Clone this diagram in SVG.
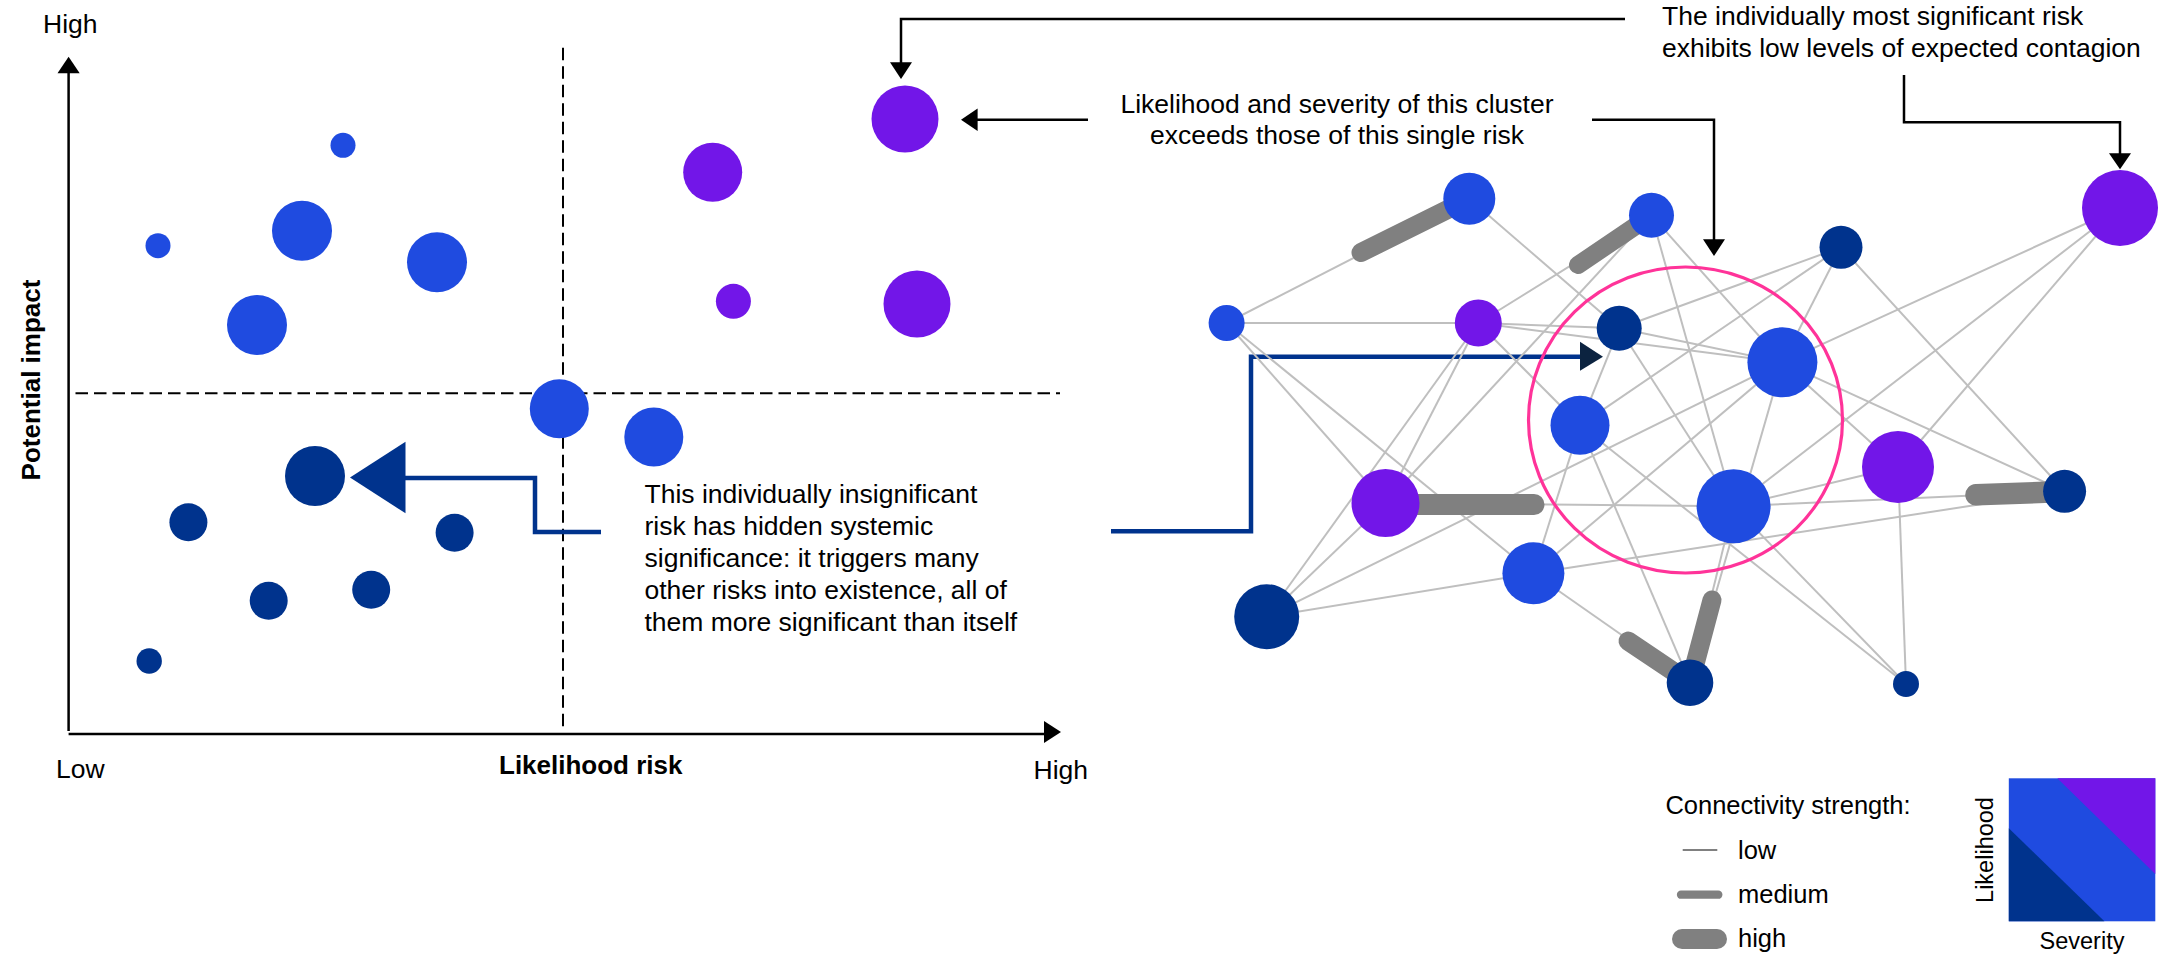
<svg xmlns="http://www.w3.org/2000/svg" width="2170" height="958" viewBox="0 0 2170 958">
  <style>
    text { font-family: "Liberation Sans", Arial, sans-serif; fill: #000; }
    .t { font-size: 26.5px; }
    .b { font-size: 26px; font-weight: bold; }
    .lg { font-size: 25.5px; }
    .sm { font-size: 23.5px; }
    .blue { fill: #1f4be0; }
    .purple { fill: #7216e8; }
    .dark { fill: #00338d; }
    .axis { stroke: #000; stroke-width: 2.5; fill: none; }
    .dash { stroke: #000; stroke-width: 2; stroke-dasharray: 12.5 6; fill: none; }
    .call { stroke: #000; stroke-width: 2.5; fill: none; }
    .head { fill: #000; }
    .edge { stroke: #bfbfbf; stroke-width: 2; fill: none; }
    .bar { stroke: #808080; stroke-linecap: round; fill: none; }
    .pointer { stroke: #00338d; stroke-width: 4.5; fill: none; }
  </style>

  <!-- Left panel: likelihood / impact matrix -->
  <g id="matrix-axes">
    <line class="axis" x1="68.6" y1="731" x2="68.6" y2="72"/>
    <polygon class="head" points="68.6,56.7 57.5,73.3 79.7,73.3"/>
    <line class="axis" x1="68.6" y1="734" x2="1046" y2="734"/>
    <polygon class="head" points="1061,732 1044,721 1044,743"/>
    <line class="dash" x1="563" y1="47.7" x2="563" y2="727"/>
    <line class="dash" x1="75.5" y1="393.3" x2="1060" y2="393.3"/>
    <text class="t" x="43" y="33">High</text>
    <text class="t" x="56" y="778">Low</text>
    <text class="t" x="1033.6" y="779">High</text>
    <text class="b" x="499" y="774">Likelihood risk</text>
    <text class="b" transform="translate(39.5,380) rotate(-90)" text-anchor="middle">Potential impact</text>
  </g>

  <g id="matrix-risks">
    <circle class="blue" cx="343" cy="145.3" r="12.5"/>
    <circle class="blue" cx="302" cy="230.7" r="30"/>
    <circle class="blue" cx="158" cy="245.7" r="12.5"/>
    <circle class="blue" cx="437" cy="262.3" r="30"/>
    <circle class="blue" cx="257" cy="325" r="30"/>
    <circle class="blue" cx="559.3" cy="408.7" r="29.5"/>
    <circle class="blue" cx="653.8" cy="437" r="29.5"/>
    <circle class="purple" cx="905" cy="119" r="33.5"/>
    <circle class="purple" cx="712.7" cy="172.3" r="29.5"/>
    <circle class="purple" cx="733.4" cy="301.3" r="17.5"/>
    <circle class="purple" cx="917" cy="304" r="33.5"/>
    <circle class="dark" cx="315" cy="476" r="30"/>
    <circle class="dark" cx="188.4" cy="522.3" r="19"/>
    <circle class="dark" cx="454.6" cy="532.7" r="19"/>
    <circle class="dark" cx="268.7" cy="600.7" r="19"/>
    <circle class="dark" cx="371.2" cy="589.7" r="19"/>
    <circle class="dark" cx="149.2" cy="661" r="12.7"/>
  </g>

  <g id="insignificant-risk-callout">
    <polyline class="pointer" points="601,532 535,532 535,478 404,478"/>
    <polygon class="dark" points="350,477.5 405.5,441.7 405.5,513.3"/>
    <text class="t" x="644.5">
      <tspan x="644.5" y="503">This individually insignificant</tspan>
      <tspan x="644.5" y="535">risk has hidden systemic</tspan>
      <tspan x="644.5" y="567">significance: it triggers many</tspan>
      <tspan x="644.5" y="599">other risks into existence, all of</tspan>
      <tspan x="644.5" y="631">them more significant than itself</tspan>
    </text>
    <polyline class="pointer" points="1111,531.3 1251,531.3 1251,356.7 1582,356.7"/>
    <polygon fill="#0c2340" points="1603,356.7 1580,341.7 1580,370.7"/>
  </g>

  <!-- Right panel: contagion network -->
  <g id="connectors">
    <line class="edge" x1="1226.6" y1="323" x2="1469.3" y2="198.7"/>
    <line class="edge" x1="1226.6" y1="323" x2="1478.3" y2="323"/>
    <line class="edge" x1="1226.6" y1="323" x2="1385.5" y2="503"/>
    <line class="edge" x1="1226.6" y1="323" x2="1533.4" y2="573.3"/>
    <line class="edge" x1="1469.3" y1="198.7" x2="1619.2" y2="328.3"/>
    <line class="edge" x1="1478.3" y1="323" x2="1651.5" y2="215.3"/>
    <line class="edge" x1="1478.3" y1="323" x2="1619.2" y2="328.3"/>
    <line class="edge" x1="1478.3" y1="323" x2="1782.4" y2="362.3"/>
    <line class="edge" x1="1478.3" y1="323" x2="1580" y2="425.3"/>
    <line class="edge" x1="1478.3" y1="323" x2="1385.5" y2="503"/>
    <line class="edge" x1="1478.3" y1="323" x2="1266.7" y2="616.7"/>
    <line class="edge" x1="1651.5" y1="215.3" x2="1782.4" y2="362.3"/>
    <line class="edge" x1="1651.5" y1="215.3" x2="1385.5" y2="503"/>
    <line class="edge" x1="1651.5" y1="215.3" x2="1733.6" y2="506.3"/>
    <line class="edge" x1="1619.2" y1="328.3" x2="1841" y2="247.3"/>
    <line class="edge" x1="1619.2" y1="328.3" x2="1782.4" y2="362.3"/>
    <line class="edge" x1="1619.2" y1="328.3" x2="1580" y2="425.3"/>
    <line class="edge" x1="1619.2" y1="328.3" x2="1733.6" y2="506.3"/>
    <line class="edge" x1="1841" y1="247.3" x2="1782.4" y2="362.3"/>
    <line class="edge" x1="1841" y1="247.3" x2="1580" y2="425.3"/>
    <line class="edge" x1="1841" y1="247.3" x2="2064.6" y2="491.3"/>
    <line class="edge" x1="2120" y1="208" x2="1782.4" y2="362.3"/>
    <line class="edge" x1="2120" y1="208" x2="1898" y2="467"/>
    <line class="edge" x1="2120" y1="208" x2="1733.6" y2="506.3"/>
    <line class="edge" x1="1782.4" y1="362.3" x2="1898" y2="467"/>
    <line class="edge" x1="1782.4" y1="362.3" x2="2064.6" y2="491.3"/>
    <line class="edge" x1="1782.4" y1="362.3" x2="1533.4" y2="573.3"/>
    <line class="edge" x1="1782.4" y1="362.3" x2="1266.7" y2="616.7"/>
    <line class="edge" x1="1782.4" y1="362.3" x2="1690" y2="682.7"/>
    <line class="edge" x1="1580" y1="425.3" x2="1533.4" y2="573.3"/>
    <line class="edge" x1="1580" y1="425.3" x2="1690" y2="682.7"/>
    <line class="edge" x1="1580" y1="425.3" x2="1906" y2="684"/>
    <line class="edge" x1="1385.5" y1="503" x2="1733.6" y2="506.3"/>
    <line class="edge" x1="1385.5" y1="503" x2="1266.7" y2="616.7"/>
    <line class="edge" x1="1898" y1="467" x2="1733.6" y2="506.3"/>
    <line class="edge" x1="1898" y1="467" x2="1906" y2="684"/>
    <line class="edge" x1="1733.6" y1="506.3" x2="2064.6" y2="491.3"/>
    <line class="edge" x1="1733.6" y1="506.3" x2="1690" y2="682.7"/>
    <line class="edge" x1="1733.6" y1="506.3" x2="1906" y2="684"/>
    <line class="edge" x1="1533.4" y1="573.3" x2="2064.6" y2="491.3"/>
    <line class="edge" x1="1533.4" y1="573.3" x2="1266.7" y2="616.7"/>
    <line class="edge" x1="1533.4" y1="573.3" x2="1690" y2="682.7"/>
    <!-- strong links, drawn as thick half-edges at the source end -->
    <line class="bar" stroke-width="19" x1="1469.3" y1="198.7" x2="1361" y2="252.5"/>
    <line class="bar" stroke-width="18" x1="1651.5" y1="215.3" x2="1578" y2="265"/>
    <line class="bar" stroke-width="21" x1="1385.5" y1="504.5" x2="1534" y2="504.5"/>
    <line class="bar" stroke-width="21.5" x1="2064.6" y1="491.5" x2="1976" y2="494.8"/>
    <line class="bar" stroke-width="19" x1="1690" y1="682.7" x2="1712" y2="600"/>
    <line class="bar" stroke-width="19" x1="1690" y1="682.7" x2="1628" y2="641"/>
  </g>

  <ellipse id="cluster" cx="1685.5" cy="420" rx="157" ry="153" fill="none" stroke="#ff3399" stroke-width="3.2"/>

  <g id="n1"><circle class="blue" cx="1226.6" cy="323" r="18"/></g>
  <g id="n2"><circle class="blue" cx="1469.3" cy="198.7" r="26"/></g>
  <g id="n3"><circle class="purple" cx="1478.3" cy="323" r="23.5"/></g>
  <g id="n4"><circle class="blue" cx="1651.5" cy="215.3" r="22.5"/></g>
  <g id="n5"><circle class="dark" cx="1619.2" cy="328.3" r="22.5"/></g>
  <g id="n6"><circle class="dark" cx="1841" cy="247.3" r="21.5"/></g>
  <g id="n7"><circle class="purple" cx="2120" cy="208" r="38"/></g>
  <g id="n8"><circle class="blue" cx="1782.4" cy="362.3" r="35"/></g>
  <g id="n9"><circle class="blue" cx="1580" cy="425.3" r="29.5"/></g>
  <g id="n10"><circle class="purple" cx="1385.5" cy="503" r="34"/></g>
  <g id="n11"><circle class="purple" cx="1898" cy="467" r="36"/></g>
  <g id="n12"><circle class="blue" cx="1733.6" cy="506.3" r="37"/></g>
  <g id="n13"><circle class="dark" cx="2064.6" cy="491.3" r="21.5"/></g>
  <g id="n14"><circle class="blue" cx="1533.4" cy="573.3" r="31"/></g>
  <g id="n15"><circle class="dark" cx="1266.7" cy="616.7" r="32.5"/></g>
  <g id="n16"><circle class="dark" cx="1690" cy="682.7" r="23.3"/></g>
  <g id="n17"><circle class="dark" cx="1906" cy="684" r="13"/></g>

  <!-- Annotations -->
  <g id="callout-top-risk">
    <polyline class="call" points="1625,19 901,19 901,64"/>
    <polygon class="head" points="901,79 890,62.3 912,62.3"/>
    <text class="t" x="1662" y="25">The individually most significant risk</text>
    <text class="t" x="1662" y="56.7">exhibits low levels of expected contagion</text>
    <polyline class="call" points="1904,75 1904,122.3 2120,122.3 2120,155"/>
    <polygon class="head" points="2120,169.3 2109,153.3 2131,153.3"/>
  </g>

  <g id="callout-cluster">
    <line class="call" x1="1088" y1="119.7" x2="975" y2="119.7"/>
    <polygon class="head" points="961,119.7 977.6,108.5 977.6,131"/>
    <text class="t" x="1337" y="112.7" text-anchor="middle">Likelihood and severity of this cluster</text>
    <text class="t" x="1337" y="144" text-anchor="middle">exceeds those of this single risk</text>
    <polyline class="call" points="1592,119.7 1714,119.7 1714,241"/>
    <polygon class="head" points="1714,256 1703,239.3 1725,239.3"/>
  </g>

  <!-- Legends -->
  <g id="legend-connectivity">
    <text class="lg" x="1665.4" y="814">Connectivity strength:</text>
    <line x1="1682.7" y1="850" x2="1717.3" y2="850" stroke="#808080" stroke-width="2"/>
    <line class="bar" stroke-width="8.3" x1="1681" y1="894.7" x2="1718.3" y2="894.7"/>
    <line class="bar" stroke-width="20" x1="1682" y1="939" x2="1717" y2="939"/>
    <text class="lg" x="1738" y="859">low</text>
    <text class="lg" x="1738" y="903">medium</text>
    <text class="lg" x="1738" y="947">high</text>
  </g>

  <g id="legend-colour">
    <rect class="blue" x="2008.8" y="778.3" width="146.5" height="143"/>
    <polygon class="purple" points="2057.3,778.3 2155.3,778.3 2155.3,874"/>
    <polygon class="dark" points="2008.8,828.3 2008.8,921.3 2104.4,921.3"/>
    <text class="sm" transform="translate(1993,850) rotate(-90)" text-anchor="middle">Likelihood</text>
    <text class="sm" x="2082" y="949" text-anchor="middle">Severity</text>
  </g>
</svg>
